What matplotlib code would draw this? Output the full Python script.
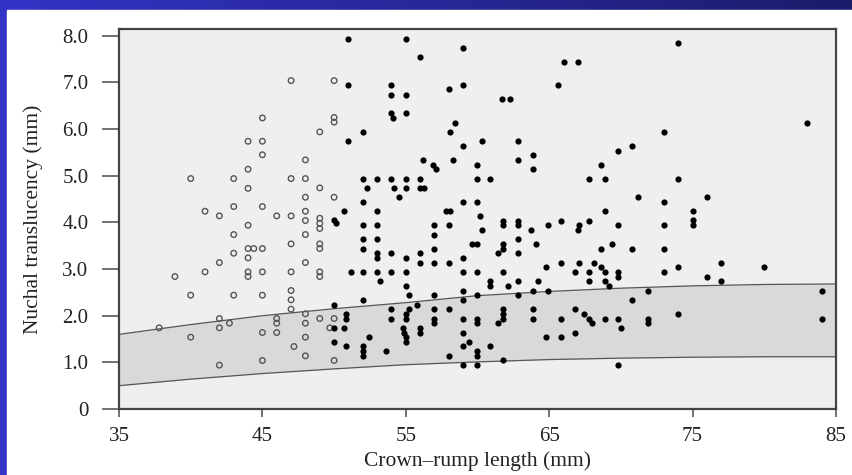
import numpy as np
import matplotlib
matplotlib.use("Agg")
import matplotlib.pyplot as plt
from matplotlib.patches import Rectangle

# ── data ─────────────────────────────────────────────────────────────────────
# reference band (5th-95th centile), sampled every 5 mm
band_crl   = [35, 40, 45, 50, 55, 60, 65, 70, 75, 80, 85]
band_upper = [1.60, 1.81, 2.00, 2.15, 2.28, 2.43, 2.52, 2.59, 2.64, 2.67, 2.68]
band_lower = [0.50, 0.64, 0.76, 0.86, 0.95, 1.01, 1.06, 1.09, 1.11, 1.12, 1.12]

# open circles (earlier gestation)
open_crl = [47, 45, 44, 45, 45, 44, 40, 43, 47, 44, 41, 42, 43, 45, 46, 47,
            44, 43, 44, 44.4, 45, 43, 44, 42, 47, 38.9, 41, 44, 44, 45, 47,
            40, 43, 45, 47, 47, 47, 37.8, 42, 42, 42.7, 45, 46, 46, 46, 40,
            47.2, 42, 45,
            50, 50, 50, 49, 48, 48, 49, 48, 50, 48, 48, 49, 49, 49, 48, 49,
            49, 48, 49, 49, 48, 48, 49, 50, 49.7, 48, 48, 50]
open_nt  = [7.04, 6.24, 5.74, 5.74, 5.45, 5.14, 4.94, 4.94, 4.94, 4.73, 4.24, 4.14, 4.34, 4.34, 4.14, 4.14,
            3.94, 3.74, 3.44, 3.44, 3.44, 3.34, 3.24, 3.14, 3.54, 2.84, 2.94, 2.94, 2.84, 2.94, 2.94,
            2.44, 2.44, 2.44, 2.54, 2.34, 2.14, 1.74, 1.94, 1.74, 1.84, 1.64, 1.64, 1.94, 1.84, 1.54,
            1.34, 0.94, 1.04,
            7.04, 6.25, 6.15, 5.94, 5.34, 4.94, 4.74, 4.54, 4.54, 4.24, 4.04, 4.09, 3.98, 3.87, 3.74, 3.54,
            3.44, 3.14, 2.94, 2.84, 2.04, 1.84, 1.94, 1.94, 1.74, 1.54, 1.14, 1.04]

# filled dots
fill_crl = [51, 55, 59, 56, 51, 54, 54, 55, 58, 59, 54, 54.1, 55, 52, 51, 58.4,
            58.1, 59, 56.2, 56.9, 57.1, 58.3, 60, 52, 53, 54, 55, 56, 60, 52.3,
            54.2, 55, 56, 56.3, 54.5, 52, 59, 60, 50.7, 53, 57.8, 58.1, 50, 50.1,
            52, 53, 57, 58, 52, 53, 52, 53, 53, 54, 55, 56, 56, 57, 57, 57, 58, 59,
            51.2, 52, 53, 54, 55, 59, 60, 53.2, 55, 55.2, 57, 59, 59, 60, 52, 50,
            55.8, 50.7, 50.8, 50.8, 54, 54, 55, 55, 55.2, 54.8, 54.9, 55, 55, 56,
            56, 57, 57, 57, 58, 59, 60, 60, 59, 59.4, 59, 60, 60, 59, 60, 58, 50,
            50.8, 52.4, 52, 52, 52, 53.6, 50,
            66, 67, 65.6, 61.7, 62.3, 60.3, 62.8, 62.8, 63.9, 63.9, 60.9, 60.2,
            61.8, 62.8, 65.8, 67.8, 68.9, 71.2, 69.8, 70.8, 68.6, 67.8, 68.9,
            61.8, 62.8, 64.9, 67.1, 67, 69.8, 60.3, 63.7, 59.6, 60, 61.8, 61.8,
            62.8, 62.8, 61.4, 64.1, 68.6, 69.4, 70.8,
            61.8, 64.8, 65.8, 66.8, 67.1, 67.8, 68.1, 68.6, 68.9, 69.8, 69.8,
            60.9, 60.9, 62.1, 62.8, 64.2, 67.8, 68.9, 69.2, 62.8, 63.9, 64.9,
            71.9, 70.8,
            61.8, 61.8, 61.8, 61.4, 63.9, 63.9, 65.8, 66.8, 67.4, 67.8, 68, 68.9,
            69.8, 70, 71.9, 71.9, 66.8, 64.8, 65.8, 60.9, 61.8, 69.8,
            74, 83, 73, 74, 76, 73, 75, 75, 75, 73, 73, 73, 74, 77, 76, 77, 80,
            84, 84, 74]
fill_nt  = [7.94, 7.94, 7.74, 7.54, 6.94, 6.94, 6.74, 6.74, 6.85, 6.94, 6.34, 6.24, 6.34, 5.94, 5.74, 6.14,
            5.94, 5.64, 5.34, 5.24, 5.14, 5.34, 5.24, 4.94, 4.94, 4.94, 4.94, 4.94, 4.94, 4.74,
            4.74, 4.74, 4.74, 4.74, 4.54, 4.44, 4.44, 4.44, 4.24, 4.24, 4.24, 4.24, 4.06, 3.98,
            3.94, 3.94, 3.94, 3.94, 3.64, 3.64, 3.44, 3.34, 3.24, 3.34, 3.24, 3.34, 3.14, 3.74, 3.44, 3.14, 3.14, 3.24,
            2.94, 2.94, 2.94, 2.94, 2.94, 2.94, 2.94, 2.74, 2.64, 2.44, 2.44, 2.54, 2.34, 2.44, 2.34, 2.24,
            2.24, 1.74, 2.04, 1.94, 2.14, 1.94, 2.04, 1.94, 2.14, 1.74, 1.64, 1.54, 1.44, 1.74,
            1.64, 2.14, 1.94, 1.84, 2.14, 1.94, 1.94, 1.84, 1.64, 1.44, 1.34, 1.24, 1.14, 0.94, 0.94, 1.14, 1.44,
            1.34, 1.54, 1.34, 1.24, 1.14, 1.24, 1.74,
            7.44, 7.44, 6.94, 6.64, 6.64, 5.74, 5.74, 5.34, 5.44, 5.14, 4.94, 4.14,
            4.04, 4.04, 4.04, 4.04, 4.24, 4.54, 5.54, 5.64, 5.24, 4.94, 4.94,
            3.94, 3.94, 3.94, 3.94, 3.84, 3.94, 3.84, 3.84, 3.54, 3.54, 3.54, 3.44,
            3.64, 3.34, 3.34, 3.54, 3.44, 3.54, 3.44,
            2.94, 3.04, 3.14, 2.94, 3.14, 2.94, 3.14, 3.04, 2.94, 2.94, 2.84,
            2.74, 2.64, 2.64, 2.74, 2.74, 2.74, 2.74, 2.64, 2.44, 2.54, 2.54,
            2.54, 2.34,
            2.14, 2.04, 1.94, 1.84, 2.14, 1.94, 1.94, 2.14, 2.04, 1.94, 1.84, 1.94,
            1.94, 1.74, 1.94, 1.84, 1.64, 1.54, 1.54, 1.34, 1.04, 0.94,
            7.84, 6.14, 5.94, 4.94, 4.54, 4.44, 4.24, 4.05, 3.95, 3.94, 3.44, 2.94, 3.04, 3.14, 2.84, 2.74, 3.04,
            2.54, 1.94, 2.04]

x_ticks = [35, 45, 55, 65, 75, 85]
y_ticks = [0, 1, 2, 3, 4, 5, 6, 7, 8]
y_labels = ["0", "1.0", "2.0", "3.0", "4.0", "5.0", "6.0", "7.0", "8.0"]

# ── palette ───────────────────────────────────────────────────────────────────
PANEL = "#efefef"
BAND  = "#d9d9d9"
FRAME = "#444444"
TICK  = "#666666"
TEXT  = "#222222"

plt.rcParams["font.family"] = ["Liberation Serif", "DejaVu Serif"]

fig = plt.figure(figsize=(8.52, 4.75), dpi=100)

# blue slide background with white panel
bg = fig.add_axes([0, 0, 1, 1], zorder=-10)
grad = np.linspace(0, 1, 256)
c0 = np.array([0.20, 0.20, 0.78])
c1 = np.array([0.11, 0.11, 0.42])
img = c0[None, None, :] * (1 - grad[None, :, None]) + c1[None, None, :] * grad[None, :, None]
bg.imshow(img, aspect="auto", extent=[0, 1, 0, 1])
bg.add_patch(Rectangle((7 / 852, 0), 1, 1 - 10 / 475, color="white", zorder=2))
bg.set_xlim(0, 1)
bg.set_ylim(0, 1)
bg.axis("off")

ax = fig.add_axes([119 / 852, 1 - 409 / 475, (836 - 119) / 852, (409 - 29.3) / 475])
ax.set_facecolor(PANEL)

ax.fill_between(band_crl, band_lower, band_upper, color=BAND, zorder=1, linewidth=0)
ax.plot(band_crl, band_upper, color="#555555", lw=0.9, zorder=2)
ax.plot(band_crl, band_lower, color="#555555", lw=0.9, zorder=2)

ax.scatter(open_crl, open_nt, s=16, facecolors="none", edgecolors="#555555",
           linewidths=1.0, zorder=3)
ax.scatter(fill_crl, fill_nt, s=20, color="black", linewidths=0, zorder=4)

ax.set_xlim(35, 85)
ax.set_ylim(0, 8.14)
ax.set_xticks(x_ticks)
ax.set_yticks(y_ticks)
ax.set_yticklabels(y_labels)

for spine in ax.spines.values():
    spine.set_color(FRAME)
    spine.set_linewidth(1.6)

ax.tick_params(axis="both", direction="out", color=TICK, width=1.3,
               labelsize=15, labelcolor=TEXT)
ax.tick_params(axis="y", length=12, pad=10)
ax.tick_params(axis="x", length=6, pad=7)

ax.set_xlabel("Crown\u2013rump length (mm)", fontsize=15.5, color=TEXT, labelpad=4)
ax.set_ylabel("Nuchal translucency (mm)", fontsize=15.5, color=TEXT, labelpad=14)

fig.savefig("out.png", dpi=100)
